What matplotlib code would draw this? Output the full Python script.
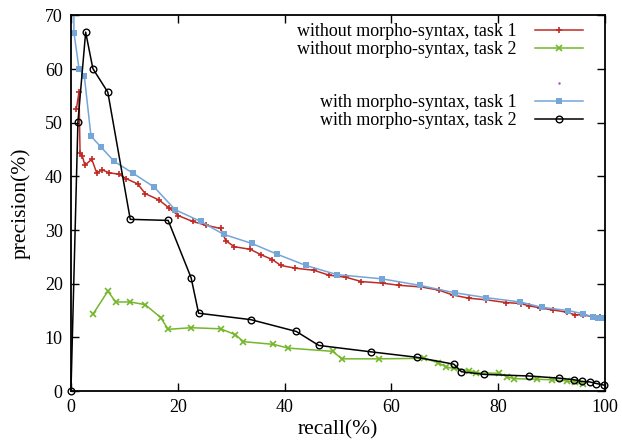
import matplotlib
matplotlib.use("Agg")
import matplotlib.pyplot as plt
from matplotlib.lines import Line2D

# without morpho-syntax, task 1
r_wo1 = [1.0, 1.5, 1.7, 2.1, 2.6, 3.9, 4.8, 5.9, 7.1, 9.0, 10.3, 12.5, 13.9, 16.5, 18.4, 20.1,
         22.8, 25.3, 28.0, 29.0, 30.6, 33.6, 35.6, 37.7, 39.3, 42.0, 45.5, 48.3, 51.5, 54.4,
         58.4, 61.5, 65.6, 68.9, 71.5, 74.5, 77.8, 81.4, 84.2, 85.7, 87.8, 90.3, 92.8, 94.4,
         95.9, 97.8, 99.1, 99.8]
p_wo1 = [52.5, 55.7, 44.4, 43.9, 42.1, 43.2, 40.7, 41.2, 40.7, 40.4, 39.6, 38.6, 36.8, 35.6, 34.1, 32.7,
         31.6, 30.9, 30.3, 28.0, 26.9, 26.4, 25.4, 24.5, 23.4, 22.9, 22.5, 21.6, 21.2, 20.4,
         20.1, 19.7, 19.4, 18.8, 17.9, 17.3, 17.0, 16.5, 16.3, 15.9, 15.5, 15.1, 14.7, 14.2,
         14.2, 13.8, 13.8, 13.6]

# without morpho-syntax, task 2
r_wo2 = [4.1, 6.9, 8.4, 11.1, 13.9, 16.8, 18.2, 22.5, 28.0, 30.8, 32.3, 37.9, 40.7, 49.0,
         50.7, 57.6, 66.1, 68.7, 70.2, 71.7, 74.5, 75.9, 80.2, 81.6, 82.9, 87.2, 90.0, 92.8,
         94.4, 95.8]
p_wo2 = [14.3, 18.6, 16.6, 16.6, 16.1, 13.7, 11.5, 11.8, 11.6, 10.5, 9.2, 8.7, 8.0, 7.4,
         6.0, 6.0, 6.1, 5.3, 4.5, 4.2, 3.8, 3.4, 3.3, 2.7, 2.3, 2.2, 2.1, 1.9,
         1.6, 1.4]

# with morpho-syntax, task 1
r_w1 = [0.4, 0.56, 1.5, 2.5, 3.75, 5.6, 8.1, 11.6, 15.6, 19.5, 24.3, 28.6, 33.9, 38.6, 44.0,
        49.8, 58.3, 65.3, 71.9, 77.8, 84.1, 88.2, 93.1, 95.9, 97.7, 98.7, 99.8]
p_w1 = [100.0, 66.8, 60.1, 58.7, 47.5, 45.5, 42.8, 40.6, 38.0, 33.8, 31.6, 29.2, 27.5, 25.5, 23.4,
        21.7, 20.9, 19.7, 18.3, 17.4, 16.6, 15.6, 15.0, 14.4, 13.8, 13.7, 13.6]

# with morpho-syntax, task 2
r_w2 = [0.0, 1.3, 2.75, 4.1, 6.9, 11.1, 18.2, 22.5, 23.9, 33.7, 42.2, 46.4, 56.2, 64.7,
        71.7, 73.1, 77.4, 85.8, 91.4, 94.2, 95.6, 97.1, 98.4, 99.8]
p_w2 = [0.0, 50.1, 66.9, 60.1, 55.7, 32.0, 31.8, 21.1, 14.5, 13.3, 11.1, 8.5, 7.3, 6.3,
        5.0, 3.6, 3.1, 2.8, 2.4, 2.1, 1.8, 1.7, 1.4, 1.1]

labels = ["without morpho-syntax, task 1", "without morpho-syntax, task 2",
          "with morpho-syntax, task 1", "with morpho-syntax, task 2"]
x_ticks = [0, 20, 40, 60, 80, 100]
y_ticks = [0, 10, 20, 30, 40, 50, 60, 70]

plt.rcParams['font.family'] = ['Liberation Serif', 'DejaVu Serif']
plt.rcParams['font.size'] = 13

fig = plt.figure(figsize=(6.22, 4.45), dpi=100)
ax = fig.add_axes([0.1141, 0.1213, 0.9727 - 0.1141, 0.9652 - 0.1213])

red = '#c02a24'
green = '#74b72a'
blue = '#74a6d8'

h1, = ax.plot(r_wo1, p_wo1, color=red, lw=1.1, marker='+', ms=5, mew=1.2)
h2, = ax.plot(r_wo2, p_wo2, color=green, lw=1.1, marker='x', ms=4, mew=1.2)
h3, = ax.plot(r_w1, p_w1, color=blue, lw=1.1, marker='s', ms=4.2, mew=0)
h4, = ax.plot(r_w2, p_w2, color='black', lw=1.1, marker='o', ms=4.8, mfc='none', mew=1.0,
              clip_on=False)

ax.set_xlim(0, 100)
ax.set_ylim(0, 70)
ax.set_xticks(x_ticks)
ax.set_yticks(y_ticks)
ax.tick_params(direction='in', top=True, right=True, length=6, width=1.0, labelsize=13, pad=6)
for s in ax.spines.values():
    s.set_linewidth(1.3)

ax.set_xlabel("recall(%)", fontsize=15.5, labelpad=3)
ax.set_ylabel("precision(%)", fontsize=15.5, labelpad=10)

blank = Line2D([], [], linestyle='none')
dot = Line2D([], [], linestyle='none', marker='.', ms=1.5, color='#9955bb')
leg = ax.legend([h1, h2, blank, dot, h3, h4],
                [labels[0], labels[1], ' ', ' ', labels[2], labels[3]],
                loc='upper right', frameon=False, markerfirst=False,
                handlelength=2.67, handletextpad=1.0, labelspacing=0.04,
                borderaxespad=0.3, fontsize=13, bbox_to_anchor=(0.9825, 1.013))

fig.savefig("out.png", dpi=100)
